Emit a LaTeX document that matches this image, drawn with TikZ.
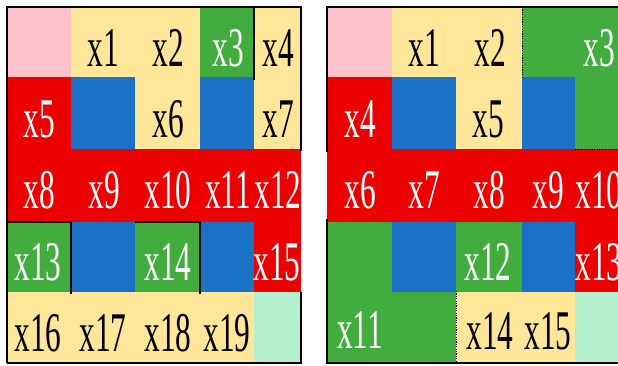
\documentclass[tikz,border=0pt]{standalone}
\usepackage{fontspec}
\setmainfont{Liberation Serif}
\newfontfamily\tnrfont{Liberation Serif}
\definecolor{cpink}{RGB}{255,194,204}
\definecolor{cyel}{RGB}{255,230,153}
\definecolor{cgreen}{RGB}{67,172,62}
\definecolor{cblue}{RGB}{26,114,198}
\definecolor{cred}{RGB}{236,0,0}
\definecolor{cmint}{RGB}{180,240,206}
\newcommand\narrowtxt[1]{\scalebox{0.56}[1]{#1}}
\tikzset{
  lbl/.style={font=\tnrfont\fontsize{56}{56}\selectfont, inner sep=0pt, anchor=center},
  dk/.style={lbl, text=black},
  wt/.style={lbl, text=white},
  border/.style={draw=black, line width=2pt},
  thinb/.style={draw=black, line width=1.3pt},
  dashb/.style={draw=black, line width=1pt, dash pattern=on 1.2pt off 1.2pt},
}
\begin{document}
\begin{tikzpicture}[x=1pt,y=-1pt]
\useasboundingbox (0,0) rectangle (618,365);
\clip (0,0) rectangle (618,365);
% ---------------- left panel ----------------
% row 1
\fill[cpink] (7,7) rectangle (71,77);
\fill[cyel] (71,7) rectangle (200,77);
\fill[cgreen] (200,7) rectangle (254,77);
\fill[cyel] (254,7) rectangle (301,77);
% row 2
\fill[cred] (7,77) rectangle (71,149);
\fill[cblue] (71,77) rectangle (135,149);
\fill[cyel] (135,77) rectangle (200,149);
\fill[cblue] (200,77) rectangle (254,149);
\fill[cyel] (254,77) rectangle (301,149);
% row 3
\fill[cred] (7,149) rectangle (301,222);
% row 4
\fill[cgreen] (7,222) rectangle (71,292);
\fill[cblue] (71,222) rectangle (135,292);
\fill[cgreen] (135,222) rectangle (200,292);
\fill[cblue] (200,222) rectangle (254,292);
\fill[cred] (254,222) rectangle (301,292);
% row 5
\fill[cyel] (7,292) rectangle (254,363);
\fill[cmint] (254,292) rectangle (301,363);
% borders
\draw[border, line width=2.6pt] (6,7) -- (302,7);
\draw[border] (7,6) -- (7,363);
\draw[thinb] (7,363) -- (302,363);
\draw[border] (301,6) -- (301,151);
\draw[border] (301,292) -- (301,364);
\draw[thinb] (254,7) -- (254,80);
\draw[thinb] (7,222) -- (71,222) -- (71,294);
\draw[thinb] (135,222) -- (200,222) -- (200,294);
% labels
\node[dk] (a1) at (103,48) {\narrowtxt{x1}};
\node[dk] (a2) at (168,48) {\narrowtxt{x2}};
\node[wt] (a3) at (228,48) {\narrowtxt{x3}};
\node[dk] (a4) at (278,48) {\narrowtxt{x4}};
\node[wt] (a5) at (39,119) {\narrowtxt{x5}};
\node[dk] (a6) at (168,119) {\narrowtxt{x6}};
\node[dk] (a7) at (278,119) {\narrowtxt{x7}};
\node[wt] (a8) at (39,190) {\narrowtxt{x8}};
\node[wt] (a9) at (104,190) {\narrowtxt{x9}};
\node[wt] (a10) at (168,190) {\narrowtxt{x10}};
\node[wt] (a11) at (228,190) {\narrowtxt{x11}};
\node[wt] (a12) at (278,190) {\narrowtxt{x12}};
\node[wt] (a13) at (38,262) {\narrowtxt{x13}};
\node[wt] (a14) at (168,262) {\narrowtxt{x14}};
\node[wt] (a15) at (277,262) {\narrowtxt{x15}};
\node[dk] (a16) at (38,333) {\narrowtxt{x16}};
\node[dk] (a17) at (103,333) {\narrowtxt{x17}};
\node[dk] (a18) at (168,333) {\narrowtxt{x18}};
\node[dk] (a19) at (227,333) {\narrowtxt{x19}};
% ---------------- right panel ----------------
% row 1
\fill[cpink] (327,7) rectangle (392,77);
\fill[cyel] (392,7) rectangle (522,77);
\fill[cgreen] (522,7) rectangle (623,77);
% row 2
\fill[cred] (327,77) rectangle (392,149);
\fill[cblue] (392,77) rectangle (456,149);
\fill[cyel] (456,77) rectangle (522,149);
\fill[cblue] (522,77) rectangle (575,149);
\fill[cgreen] (575,77) rectangle (623,149);
% row 3
\fill[cred] (327,149) rectangle (623,222);
% row 4
\fill[cgreen] (327,222) rectangle (392,292);
\fill[cblue] (392,222) rectangle (456,292);
\fill[cgreen] (456,222) rectangle (522,292);
\fill[cblue] (522,222) rectangle (575,292);
\fill[cred] (575,222) rectangle (623,292);
% row 5
\fill[cgreen] (327,292) rectangle (456,363);
\fill[cyel] (456,292) rectangle (575,363);
\fill[cmint] (575,292) rectangle (623,363);
% borders
\draw[border, line width=2.6pt] (326,7) -- (623,7);
\draw[border] (327,6) -- (327,152);
\draw[border] (327,219) -- (327,364);
\draw[border] (326,363) -- (623,363);
\draw[dashb] (522,7) -- (522,78);
\draw[dashb] (575,149) -- (623,149);
\draw[dashb] (456,291) -- (456,363);
% labels
\node[dk] (b1) at (424,48) {\narrowtxt{x1}};
\node[dk] (b2) at (490,48) {\narrowtxt{x2}};
\node[wt] (b3) at (599,48) {\narrowtxt{x3}};
\node[wt] (b4) at (360,119) {\narrowtxt{x4}};
\node[dk] (b5) at (488,119) {\narrowtxt{x5}};
\node[wt] (b6) at (360,190) {\narrowtxt{x6}};
\node[wt] (b7) at (424,190) {\narrowtxt{x7}};
\node[wt] (b8) at (489,190) {\narrowtxt{x8}};
\node[wt] (b9) at (548,190) {\narrowtxt{x9}};
\node[wt] (b10) at (599,190) {\narrowtxt{x10}};
\node[wt] (b12) at (488,262) {\narrowtxt{x12}};
\node[wt] (b13) at (599,262) {\narrowtxt{x13}};
\node[wt] (b11) at (360,330) {\narrowtxt{x11}};
\node[dk] (b14) at (490,331) {\narrowtxt{x14}};
\node[dk] (b15) at (548,331) {\narrowtxt{x15}};
\end{tikzpicture}
\end{document}
